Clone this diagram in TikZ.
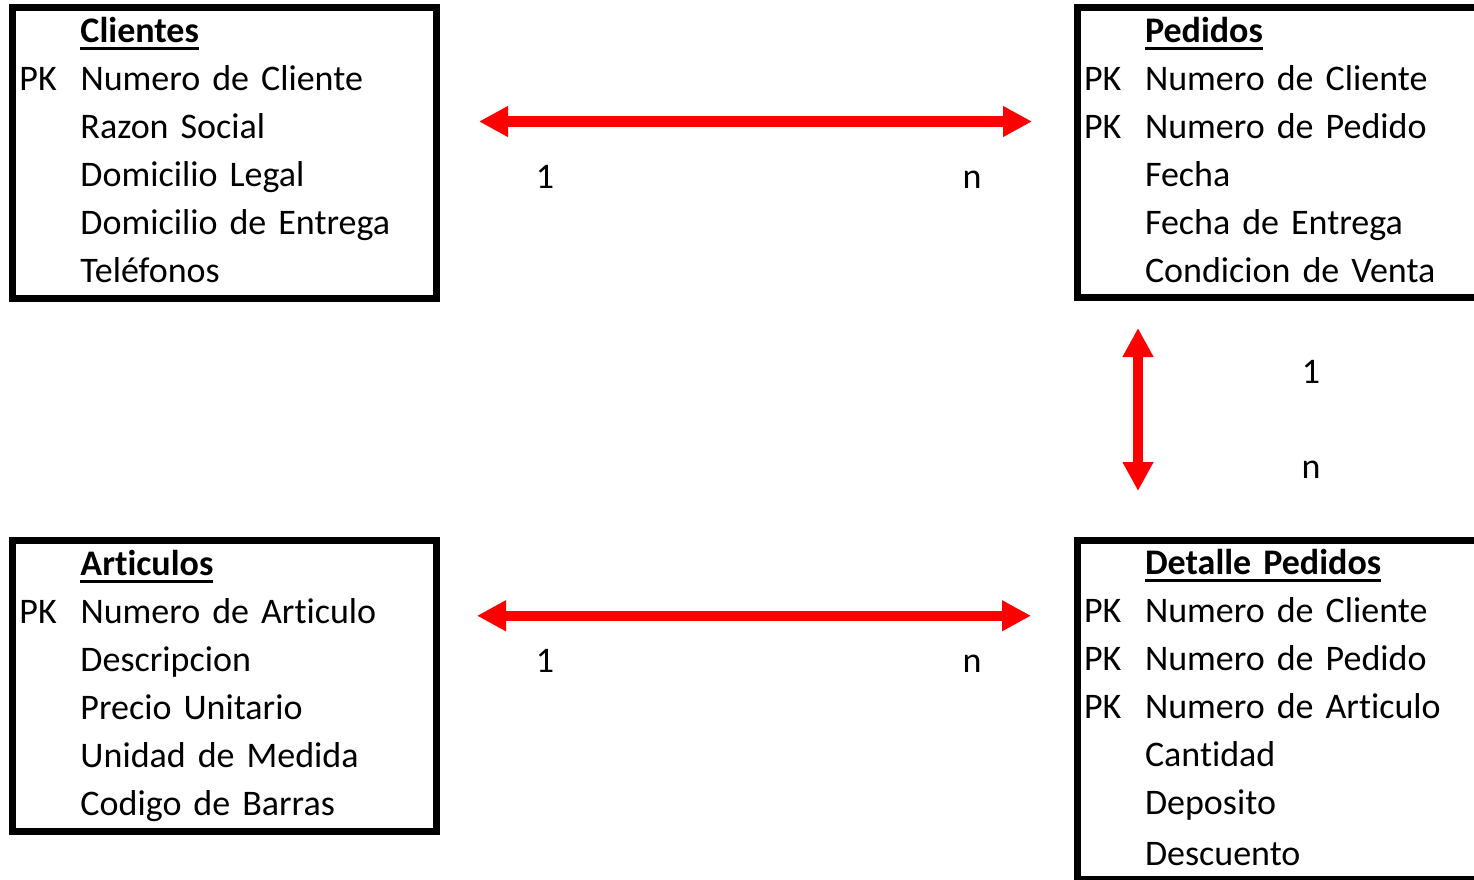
\documentclass[tikz,border=0pt]{standalone}
\usepackage{fontspec}
\setmainfont{Carlito}[Ligatures=NoCommon]
\usepackage{tikz}
\usetikzlibrary{arrows.meta, positioning, calc}
\definecolor{cRojo}{RGB}{255,0,0}
\newcommand{\titulo}[1]{\setbox0\hbox{\bfseries #1}\rlap{\rule[-7.5pt]{\wd0}{3pt}}\box0}
\tikzset{
    tabla/.style   ={rectangle, draw=black, line width=7pt, outer sep=0pt, inner xsep=7pt, inner ysep=0pt, minimum width=424pt, text width=410pt, align=left, anchor=north west},
    relacion/.style={{Triangle[length=29pt, width=29pt]}-{Triangle[length=29pt, width=29pt]}, line width=10.5pt, draw=cRojo},
    card/.style    ={anchor=base},
}

\begin{document}
\begin{tikzpicture}[x=1pt, y=-1pt, every node/.style={font=\fontsize{36}{48}\selectfont}]
            \useasboundingbox (0,0) rectangle (1474,880);
            \node[tabla, minimum height=291pt] (cli) at (12.5,7.5){\begin{tabular}{@{}p{61pt}@{}l@{}}
                    & \titulo{Clientes}\\
                PK  & Numero de Cliente\\
                    & Razon Social\\
                    & Domicilio Legal\\
                    & Domicilio de Entrega\\
                    & Teléfonos
                \end{tabular}};
            \node[tabla, minimum height=290pt] (ped) at (1077,7.5){\begin{tabular}{@{}p{61pt}@{}l@{}}
                    & \titulo{Pedidos}\\
                PK  & Numero de Cliente\\
                PK  & Numero de Pedido\\
                    & Fecha\\
                    & Fecha de Entrega\\
                    & Condicion de Venta
                \end{tabular}};
            \node[tabla, minimum height=290.5pt] (art) at (12.5,540.5){\begin{tabular}{@{}p{61pt}@{}l@{}}
                    & \titulo{Articulos}\\
                PK  & Numero de Articulo\\
                    & Descripcion\\
                    & Precio Unitario\\
                    & Unidad de Medida\\
                    & Codigo de Barras
                \end{tabular}};
            \node[tabla, minimum height=335.5pt] (det) at (1077,540.5){\begin{tabular}{@{}p{61pt}@{}l@{}}
                    & \titulo{Detalle Pedidos}\\
                PK  & Numero de Cliente\\
                PK  & Numero de Pedido\\
                PK  & Numero de Articulo\\
                    & Cantidad\\
                    & Deposito\\[3pt]
                    & Descuento
                \end{tabular}};
            \draw[relacion, shorten <=42.5pt, shorten >=45pt]([yshift=31.5pt]cli.east)--([yshift=31.5pt]cli.east -| ped.west);
            \draw[relacion, shorten <=30.5pt, shorten >=49.5pt]([xshift=61pt]ped.south west)--([xshift=61pt]ped.south west |- det.north);
            \draw[relacion, shorten <=40.5pt, shorten >=46pt]([yshift=70pt]art.east)--([yshift=70pt]art.east -| det.west);
            \node[card] (c1) at (545,188){1};
            \node[card] (cn) at (972,188){n};
            \node[card] (p1) at (1311,383){1};
            \node[card] (pn) at (1311,478){n};
            \node[card] (a1) at (545,672){1};
            \node[card] (an) at (972,672){n};
        \end{tikzpicture}
\end{document}
